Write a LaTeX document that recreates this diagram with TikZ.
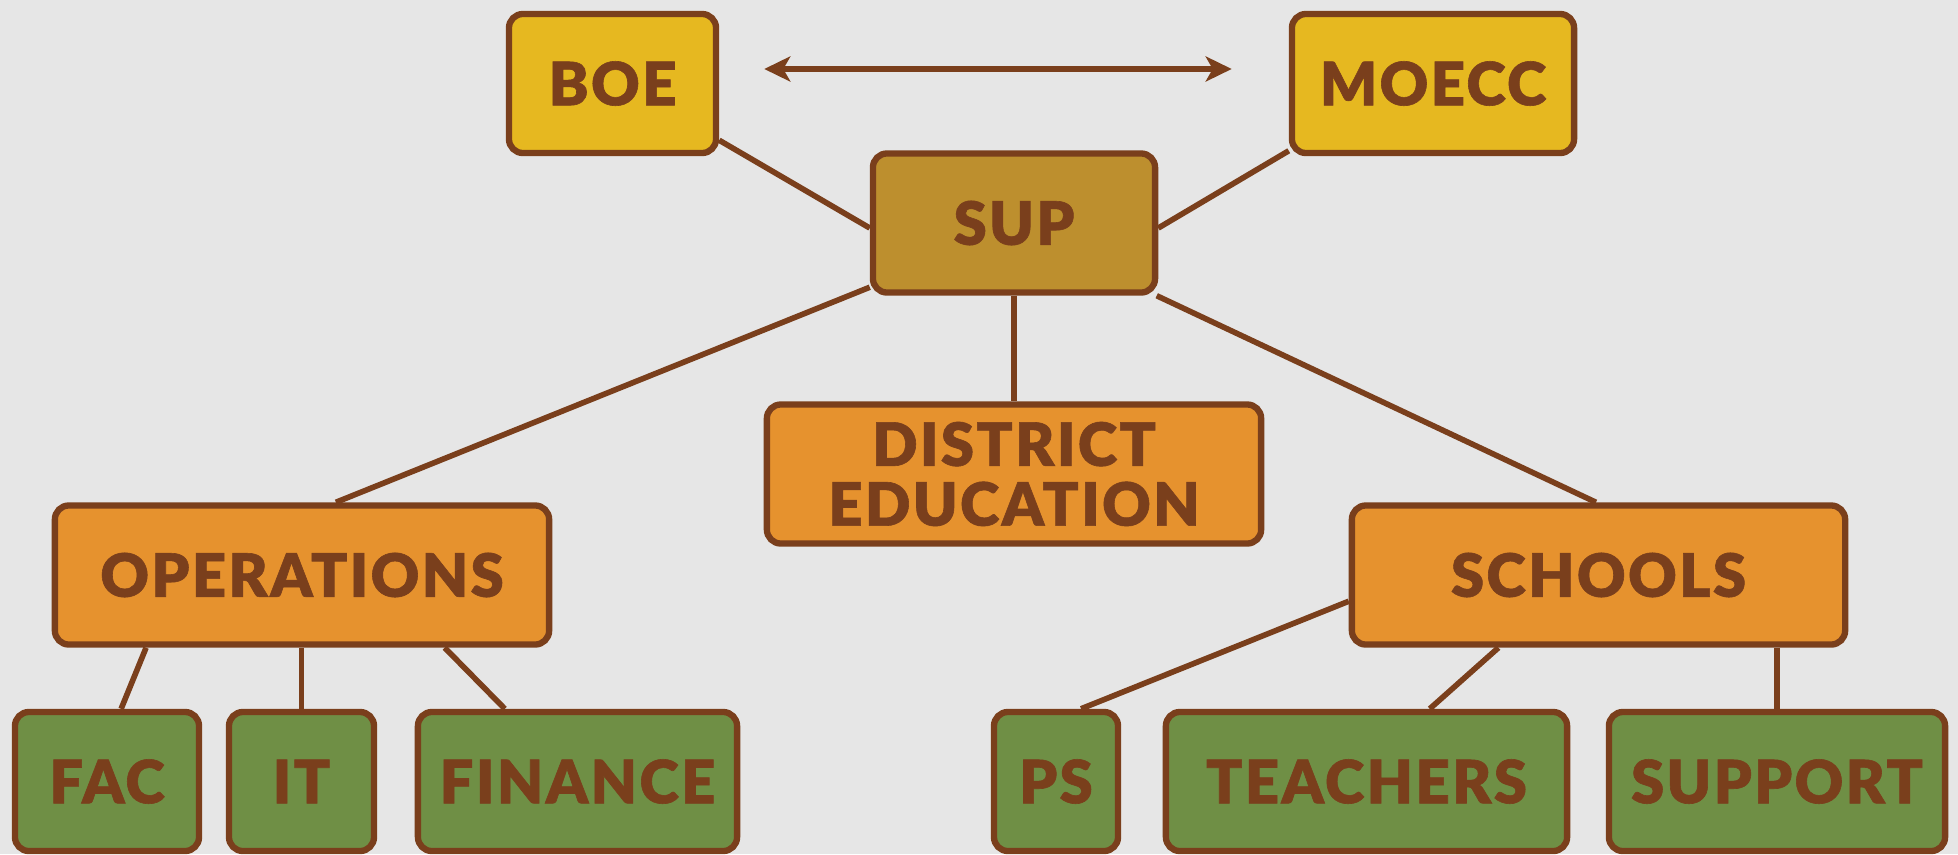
\documentclass[tikz,border=0pt]{standalone}
\usepackage{fontspec}
\newfontfamily\boxfont[FakeBold=1.0, LetterSpace=4]{Lato Black}
\usetikzlibrary{arrows.meta}
\definecolor{bgray}{HTML}{E6E6E6}
\definecolor{brownline}{HTML}{7A3F1C}
\definecolor{boardyellow}{HTML}{E6B820}
\definecolor{supgold}{HTML}{BD8F2E}
\definecolor{deptorange}{HTML}{E6922E}
\definecolor{unitgreen}{HTML}{6F8F45}
\begin{document}
\begin{tikzpicture}[x=0.01cm, y=-0.01cm,
    box/.style={draw=brownline, line width=1.8pt, rounded corners=0.14cm,
      text=brownline, font=\boxfont\fontsize{17}{17}\selectfont, align=center,
      inner sep=0pt, minimum height=1.39cm},
    board/.style={box, fill=boardyellow},
    head/.style={box, fill=supgold},
    dept/.style={box, fill=deptorange},
    unit/.style={box, fill=unitgreen},
    link/.style={brownline, line width=1.6pt}]
  \fill [bgray] (0, 0) rectangle (1958, 854);
  \useasboundingbox (0, 0) rectangle (1958, 854);

  \node [board, minimum width=2.07cm] (boe) at (612.5, 83.5) {BOE};
  \node [board, minimum width=2.82cm] (moecc) at (1433, 83.5) {MOECC};
  \node [head, minimum width=2.82cm] (sup) at (1014, 223) {SUP};

  \node [dept, minimum width=4.94cm] (dist) at (1014, 474) {DISTRICT\\EDUCATION};
  \node [dept, minimum width=4.94cm] (ops) at (302, 575) {OPERATIONS};
  \node [dept, minimum width=4.93cm] (schools) at (1598.5, 575) {SCHOOLS};

  \node [unit, minimum width=1.84cm] (fac) at (107, 781.5) {FAC};
  \node [unit, minimum width=1.45cm] (it) at (301.5, 781.5) {IT};
  \node [unit, minimum width=3.19cm] (finance) at (577.5, 781.5) {FINANCE};
  \node [unit, minimum width=1.24cm] (ps) at (1056, 781.5) {PS};
  \node [unit, minimum width=4.01cm] (teachers) at (1366.5, 781.5) {TEACHERS};
  \node [unit, minimum width=3.36cm] (support) at (1777, 781.5) {SUPPORT};

  \draw [link, {Stealth[length=0.26cm, width=0.25cm, inset=0.07cm]}-{Stealth[length=0.26cm, width=0.25cm, inset=0.07cm]},
    shorten <=0.45cm, shorten >=0.57cm]
    ([yshift=0.145cm]boe.east) -- ([yshift=0.145cm]moecc.west);

  \draw [link] (boe.-28) -- (sup.182);
  \draw [link] (moecc.205.6) -- (sup.-2);
  \draw [link] (sup.204.5) -- (ops.65.7);
  \draw [link] (sup.south) -- (dist.north);
  \draw [link] (sup.-27.6) -- (schools.92);

  \draw [link] (ops.205) -- (fac.79.3);
  \draw [link] (it.north |- ops.south) -- (it.north);
  \draw [link] (ops.-27.4) -- (finance.135.2);

  \draw [link] (schools.186.7) -- (ps.71);
  \draw [link] (schools.216.7) -- (teachers.49.8);
  \draw [link] (schools.south -| support.north) -- (support.north);
\end{tikzpicture}
\end{document}
